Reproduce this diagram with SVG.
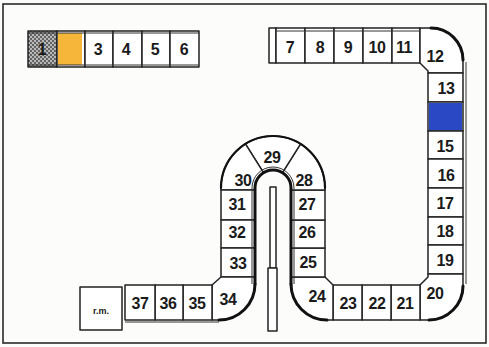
<svg xmlns="http://www.w3.org/2000/svg" width="489" height="347" viewBox="0 0 489 347">
<defs>
<pattern id="stip" width="4" height="4" patternUnits="userSpaceOnUse">
<rect width="4" height="4" fill="#b8b8b8"/>
<circle cx="1" cy="1" r="0.9" fill="#3a3a3a"/>
<circle cx="3" cy="3" r="0.9" fill="#3a3a3a"/>
</pattern>
</defs>
<style>
.c{fill:#fff;stroke:#222;stroke-width:1.5;stroke-linejoin:round}
.t{font-family:"Liberation Sans",Arial,sans-serif;font-weight:bold;font-size:16px;fill:#1a1a1a;text-anchor:middle;letter-spacing:-0.5px}
.s{font-size:9px;letter-spacing:0}
.thk{fill:none;stroke:#111;stroke-width:3;stroke-linecap:round}
.thn{fill:none;stroke:#333;stroke-width:1}
</style>
<rect x="0" y="0" width="489" height="347" fill="#fcfcfb"/>
<rect id="frame" x="3" y="4" width="483" height="339" fill="none" stroke="#2a2a2a" stroke-width="1.6"/>

<!-- top-left row -->
<g id="c1"><rect class="c" x="28" y="31" width="29" height="36" fill="url(#stip)" style="fill:url(#stip)"/><text class="t" x="42" y="55">1</text></g>
<g id="c2"><rect class="c" x="57" y="31" width="28" height="36"/><rect x="58" y="33" width="24" height="32" fill="#f6b63a"/></g>
<g id="c3"><rect class="c" x="85" y="31" width="28" height="36"/><text class="t" x="98" y="55">3</text></g>
<g id="c4"><rect class="c" x="113" y="31" width="29" height="36"/><text class="t" x="126" y="55">4</text></g>
<g id="c5"><rect class="c" x="142" y="31" width="28" height="36"/><text class="t" x="155" y="55">5</text></g>
<g id="c6"><rect class="c" x="170" y="31" width="29" height="36"/><text class="t" x="184" y="55">6</text></g>

<!-- top right row -->
<g id="start"><rect class="c" x="269" y="28" width="7" height="35"/></g>
<g id="c7"><rect class="c" x="276" y="28" width="29" height="35"/><text class="t" x="290" y="53">7</text></g>
<g id="c8"><rect class="c" x="305" y="28" width="29" height="35"/><text class="t" x="320" y="53">8</text></g>
<g id="c9"><rect class="c" x="334" y="28" width="29" height="35"/><text class="t" x="348" y="53">9</text></g>
<g id="c10"><rect class="c" x="363" y="28" width="29" height="35"/><text class="t" x="377" y="53">10</text></g>
<g id="c11"><rect class="c" x="392" y="28" width="28" height="35"/><text class="t" x="404" y="53">11</text></g>
<g id="c12"><path class="c" d="M420,28 L431,28 A32,32 0 0 1 463,60 L463,73 L428,73 L428,71 L420,63 Z"/><text class="t" x="435" y="62">12</text></g>

<!-- right column -->
<g id="c13"><rect class="c" x="428" y="73" width="35" height="29"/><text class="t" x="446" y="94">13</text></g>
<g id="c14"><rect class="c" x="428" y="102" width="35" height="29"/><rect x="429" y="103" width="33" height="27" fill="#2a48c4"/></g>
<g id="c15"><rect class="c" x="428" y="131" width="35" height="28"/><text class="t" x="445" y="152">15</text></g>
<g id="c16"><rect class="c" x="428" y="159" width="35" height="29"/><text class="t" x="446" y="181">16</text></g>
<g id="c17"><rect class="c" x="428" y="188" width="35" height="29"/><text class="t" x="445" y="209">17</text></g>
<g id="c18"><rect class="c" x="428" y="217" width="35" height="28"/><text class="t" x="445" y="237">18</text></g>
<g id="c19"><rect class="c" x="428" y="245" width="35" height="29"/><text class="t" x="445" y="266">19</text></g>
<g id="c20"><path class="c" d="M428,274 L463,274 L463,286 A34,34 0 0 1 429,320 L420,320 L420,285 L428,277 Z"/><text class="t" x="435" y="299">20</text></g>

<!-- bottom right row -->
<g id="c21"><rect class="c" x="391" y="285" width="29" height="35"/><text class="t" x="405" y="309">21</text></g>
<g id="c22"><rect class="c" x="362" y="285" width="29" height="35"/><text class="t" x="377" y="309">22</text></g>
<g id="c23"><rect class="c" x="333" y="285" width="29" height="35"/><text class="t" x="348" y="309">23</text></g>
<g id="c24"><path class="c" d="M325,277 L333,285 L333,320 L327,320 A36,36 0 0 1 291,284 L291,277 Z"/><text class="t" x="317" y="302">24</text></g>

<!-- middle right column -->
<g id="c25"><rect class="c" x="291" y="248" width="34" height="29"/><text class="t" x="308" y="268">25</text></g>
<g id="c26"><rect class="c" x="291" y="220" width="34" height="28"/><text class="t" x="307" y="238">26</text></g>
<g id="c27"><rect class="c" x="291" y="190" width="34" height="30"/><text class="t" x="307" y="210">27</text></g>
<g id="c28"><path class="c" d="M291,190 L325,190 L325,188 A52,52 0 0 0 300.6,143.9 L282.5,172.7 A18,18 0 0 1 291,188 Z"/><text class="t" x="304" y="186">28</text></g>
<g id="c29"><path class="c" d="M245.4,143.9 A52,52 0 0 1 300.6,143.9 L282.5,172.7 A18,18 0 0 0 263.5,172.7 Z"/><text class="t" x="272" y="163">29</text></g>
<g id="c30"><path class="c" d="M221,190 L255,190 L255,188 A18,18 0 0 1 263.5,172.7 L245.4,143.9 A52,52 0 0 0 221,188 Z"/><text class="t" x="243" y="186">30</text></g>

<!-- middle left column -->
<g id="c31"><rect class="c" x="221" y="190" width="34" height="30"/><text class="t" x="237" y="210">31</text></g>
<g id="c32"><rect class="c" x="221" y="220" width="34" height="28"/><text class="t" x="237" y="238">32</text></g>
<g id="c33"><rect class="c" x="221" y="248" width="34" height="29"/><text class="t" x="238" y="269">33</text></g>
<g id="c34"><path class="c" d="M221,277 L255,277 L255,284 A36,36 0 0 1 219,320 L212,320 L212,285 Z"/><text class="t" x="228" y="305">34</text></g>

<!-- bottom left row -->
<g id="c35"><rect class="c" x="183" y="285" width="29" height="35"/><text class="t" x="197" y="309">35</text></g>
<g id="c36"><rect class="c" x="155" y="285" width="28" height="35"/><text class="t" x="168" y="309">36</text></g>
<g id="c37"><rect class="c" x="125" y="285" width="30" height="35"/><text class="t" x="140" y="309">37</text></g>
<g id="rm"><rect class="c" x="80" y="287" width="42" height="43"/><text class="t s" x="101" y="314">r.m.</text></g>

<!-- centre post -->
<g id="post">
<rect class="c" x="270" y="187" width="6" height="81"/>
<rect class="c" x="268" y="268" width="9" height="63"/>
</g>

<!-- heavy outlines -->
<g id="outlines">
<path class="thk" d="M431,28 A32,32 0 0 1 463,60"/>
<path class="thk" d="M463,286 A34,34 0 0 1 429,320"/>
<path class="thk" d="M327,320 A36,36 0 0 1 291,284"/>
<path class="thk" d="M255,284 A36,36 0 0 1 219,320"/>
<path class="thk" d="M291,284 L291,188 A18,18 0 0 0 255,188 L255,284"/>
<path class="thk" style="stroke-width:2.2" d="M325,188 A52,52 0 0 0 221,188"/>
<path class="thn" d="M294,284 L294,188 A21,21 0 0 0 252,188 L252,284"/>
<path class="thn" d="M125,322 L219,322"/>
<path class="thn" d="M276,31 L420,31"/>
<path class="thn" d="M466,62 L466,284"/>
<path class="thn" d="M28,33 L199,33"/>
<path class="thn" d="M28,65 L199,65"/>
</g>
<g id="connectors"></g>
</svg>
